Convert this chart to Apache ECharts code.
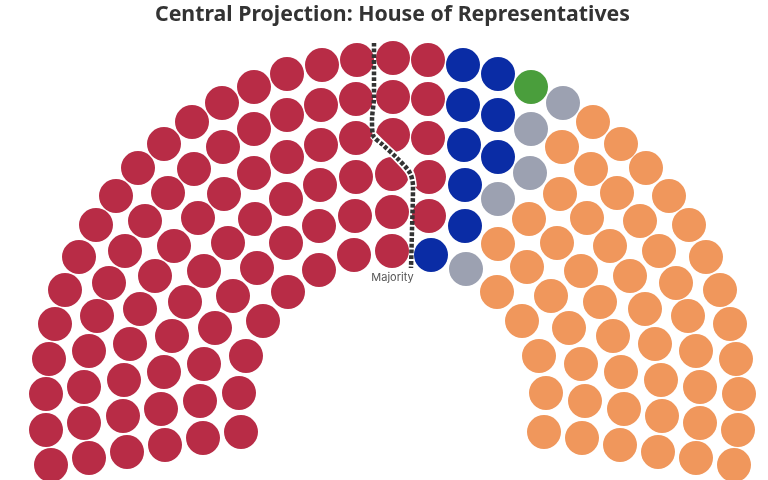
<!DOCTYPE html>
<html>
<head>
<meta charset="utf-8">
<title>Central Projection: House of Representatives</title>
<script src="https://cdn.jsdelivr.net/npm/echarts@6/dist/echarts.min.js"></script>
<style>
  html, body { margin: 0; padding: 0; background: #fff; }
  #chart { width: 768px; height: 480px; }
</style>
</head>
<body>
<div id="chart"></div>
<script>
// seats, x / y on the 768x480 hemicycle plane
const redSeats = [
  [393,58],[357,60],[322,65],[287,74],[254,87],[222,103],[192,122],[164,144],[138,168],[116,196],[96,225],[79,257],[65,290],[55,324],[49,359],[46,394],[46,430],[51,465],
  [393,97],[356,99],[321,105],[287,115],[254,129],[223,147],[194,169],[168,193],[145,221],[125,251],[109,283],[97,316],[89,351],[84,387],[84,423],[89,458],
  [393,135],[356,138],[321,145],[287,157],[254,173],[224,194],[198,218],[174,246],[155,276],[140,309],[130,344],[124,380],[123,416],[127,452],
  [392,174],[356,177],[320,185],[286,199],[255,219],[228,243],[204,271],[185,302],[172,336],[164,372],[161,409],[165,445],
  [392,212],[355,216],[319,226],[286,243],[257,268],[233,296],[215,328],[204,364],[200,401],[203,438],
  [392,251],[354,255],[319,270],[288,292],[263,321],[246,356],[239,393],[241,432],
  [428,60],[428,99],[428,138],[429,177],[429,216]
];
const blueSeats = [
  [463,65],[498,74],[463,105],[498,115],[464,145],[498,157],[465,185],[465,226],[431,255]
];
const greenSeats = [[531,87]];
const greySeats = [[563,103],[531,129],[530,173],[498,199],[466,269]];
const orangeSeats = [
  [593,122],[621,144],[646,168],[669,196],[689,225],[706,257],[720,290],[730,324],[736,359],[739,394],[738,430],[734,465],
  [562,147],[591,169],[617,193],[640,221],[659,251],[676,283],[688,316],[696,351],[700,387],[700,423],[696,458],
  [560,194],[587,218],[610,246],[630,276],[645,309],[655,344],[661,380],[662,416],[658,452],
  [529,219],[557,243],[581,271],[600,302],[613,336],[621,372],[624,409],[620,445],
  [498,244],[527,267],[551,296],[569,328],[581,364],[585,401],[582,438],
  [497,292],[522,321],[539,356],[546,393],[544,432]
];
const majorityLine = [
  [374,43],[374,97],[372,120],[373,135],[383,145],[397,158],[410,173],[413,187],[412,230],[411,268]
];

const chartTitle = 'Central Projection: House of Representatives';
const majorityLabel = 'Majority';

const chart = echarts.init(document.getElementById('chart'), null, { renderer: 'canvas' });

// one scatter series per party
function seatSeries(name, seats, color) {
  return {
    name: name,
    type: 'scatter',
    data: seats,
    symbol: 'circle',
    symbolSize: 34,
    itemStyle: { color: color, opacity: 1 },
    silent: true,
    z: 2
  };
}

const option = {
  backgroundColor: '#fff',
  animation: false,
  title: [
    {
      text: chartTitle,
      left: 387.5,
      top: -1,
      textAlign: 'center',
      textStyle: { fontFamily: 'Noto Sans', fontSize: 21.3, fontWeight: 'bold', color: '#333' }
    },
    {
      text: majorityLabel,
      left: 387.5,
      top: 267,
      textAlign: 'center',
      textStyle: { fontFamily: 'Inter', fontSize: 11, fontWeight: 'normal', color: '#555' }
    }
  ],
  grid: { left: 0, right: 0, top: 0, bottom: 0 },
  xAxis: { type: 'value', min: 0, max: 768, show: false },
  yAxis: { type: 'value', min: 0, max: 480, inverse: true, show: false },
  series: [
    seatSeries('Red', redSeats, '#B82C46'),
    seatSeries('Blue', blueSeats, '#0A2CA5'),
    seatSeries('Green', greenSeats, '#4A9E3C'),
    seatSeries('Grey', greySeats, '#9CA1B1'),
    seatSeries('Orange', orangeSeats, '#F0975C'),
    // white halo under the majority line
    {
      type: 'line',
      data: majorityLine.slice(3, 8),
      smooth: 0.3,
      symbol: 'none',
      lineStyle: { color: '#fff', width: 8 },
      silent: true,
      z: 3
    },
    {
      type: 'line',
      data: majorityLine,
      smooth: 0.3,
      symbol: 'none',
      lineStyle: { color: '#333', width: 4.5, type: [3.8, 1.9] },
      silent: true,
      z: 4
    }
  ]
};

chart.setOption(option);
</script>
</body>
</html>
